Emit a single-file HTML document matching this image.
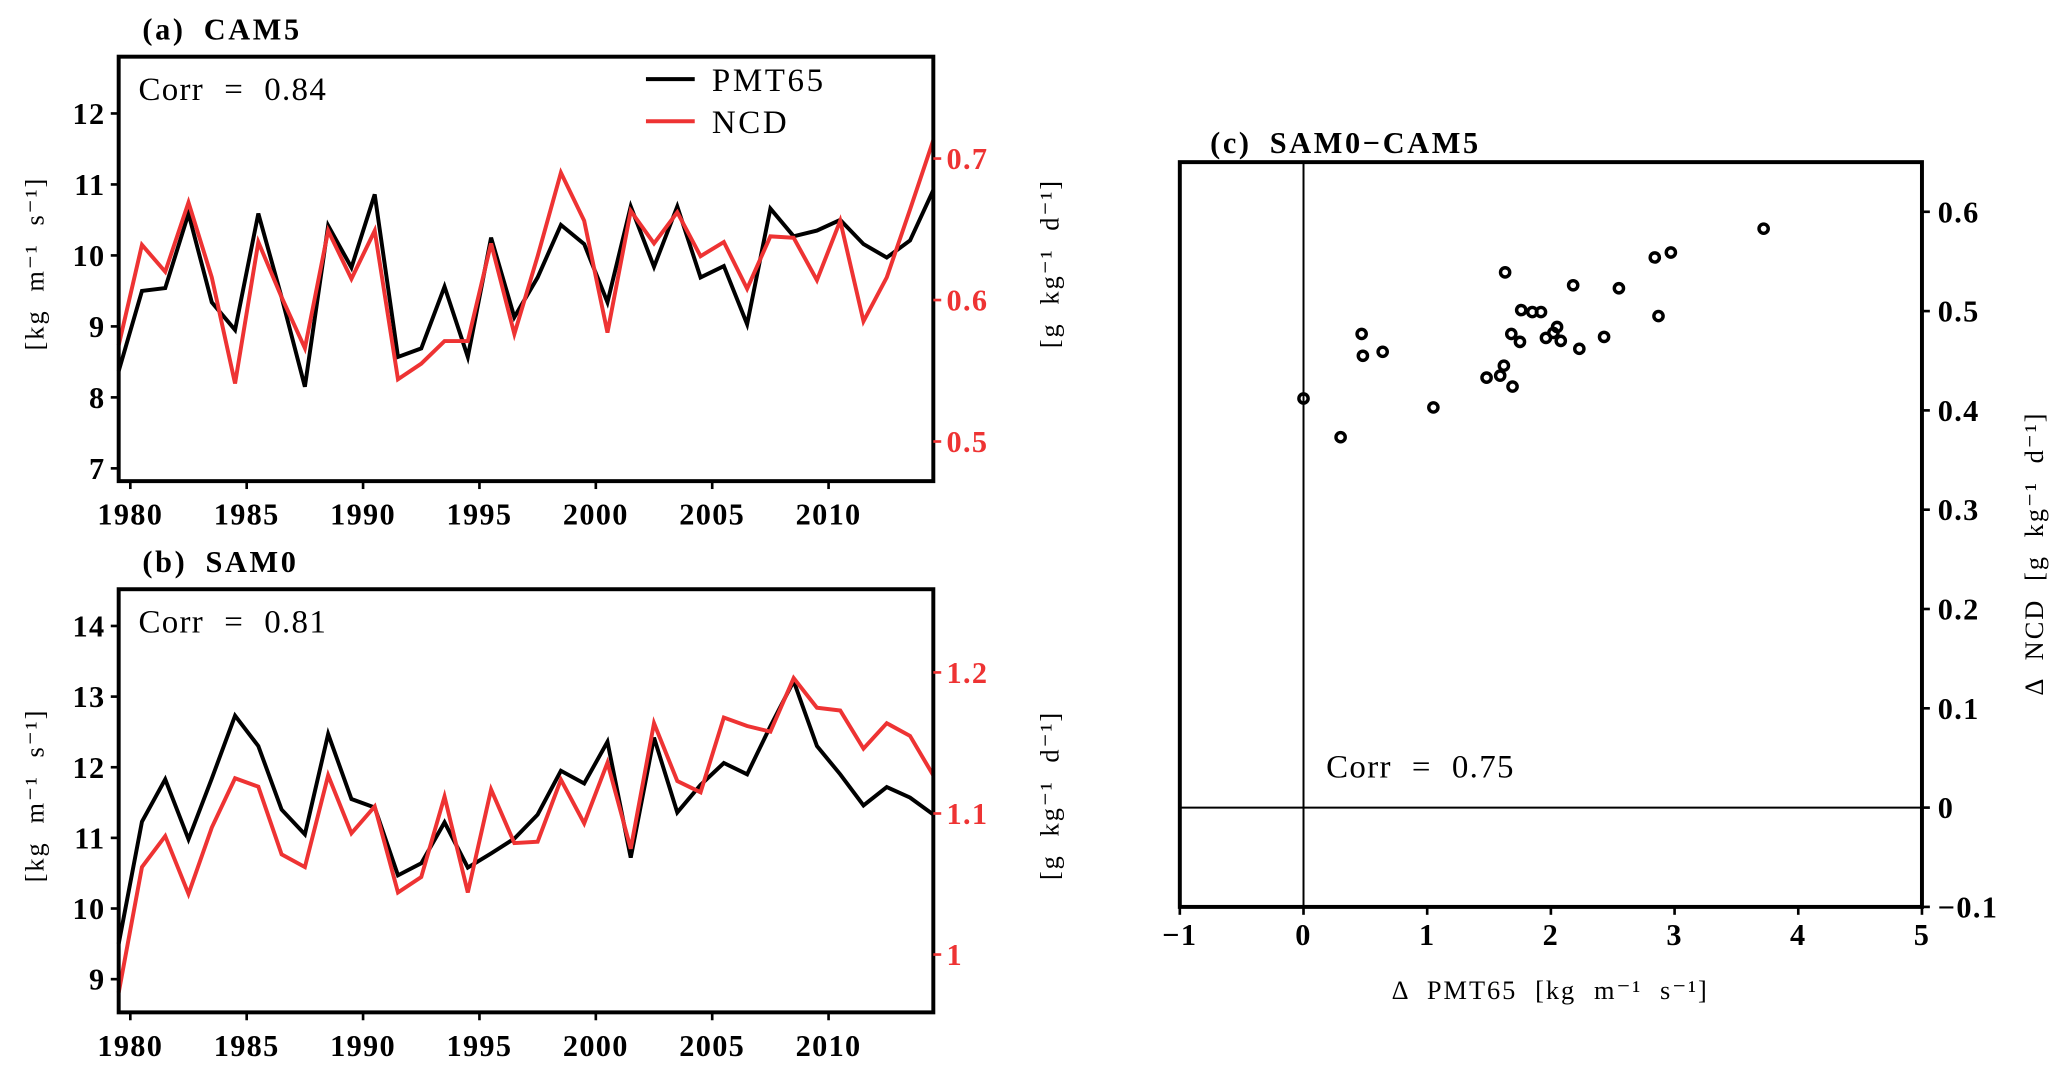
<!DOCTYPE html>
<html><head><meta charset="utf-8">
<style>
html,body{margin:0;padding:0;background:#fff;}
svg{display:block;}
text{font-family:"Liberation Serif",serif;}
.tk{font-weight:bold;font-size:23px;letter-spacing:1px;}
.ttl{font-weight:bold;font-size:23px;letter-spacing:2px;word-spacing:6px;}
.corr{font-size:25px;letter-spacing:1px;word-spacing:8px;}
.ax{font-size:20px;letter-spacing:1.5px;word-spacing:7px;}
</style></head>
<body>
<svg id="fig" width="2067" height="1073" viewBox="0 0 1568 814" xmlns="http://www.w3.org/2000/svg">
<g id="root"></g>
</svg>
<script>
const years = [1979,1980,1981,1982,1983,1984,1985,1986,1987,1988,1989,1990,1991,1992,1993,1994,1995,1996,1997,1998,1999,2000,2001,2002,2003,2004,2005,2006,2007,2008,2009,2010,2011,2012,2013,2014];
const camPMT = [8.37,9.50,9.54,10.59,9.34,8.95,10.59,9.41,8.15,10.42,9.83,10.86,8.57,8.69,9.56,8.57,10.25,9.13,9.69,10.43,10.16,9.34,10.69,9.84,10.69,9.69,9.85,9.03,10.66,10.27,10.35,10.50,10.16,9.97,10.21,10.92];
const camNCD = [0.568,0.639,0.620,0.669,0.616,0.541,0.641,0.602,0.566,0.649,0.615,0.649,0.544,0.555,0.571,0.571,0.640,0.576,0.631,0.690,0.656,0.577,0.663,0.640,0.662,0.631,0.641,0.608,0.645,0.644,0.614,0.656,0.585,0.616,0.664,0.713];
const samPMT = [9.5,11.23,11.83,10.98,11.84,12.73,12.30,11.40,11.05,12.47,11.55,11.43,10.47,10.64,11.22,10.58,10.78,10.99,11.33,11.95,11.77,12.36,10.72,12.42,11.36,11.75,12.06,11.90,12.58,13.22,12.30,11.90,11.46,11.72,11.57,11.33];
const samNCD = [0.973,1.062,1.084,1.043,1.090,1.125,1.119,1.071,1.062,1.127,1.086,1.105,1.044,1.055,1.112,1.044,1.117,1.079,1.080,1.124,1.093,1.136,1.075,1.164,1.123,1.115,1.168,1.162,1.158,1.196,1.175,1.173,1.146,1.164,1.155,1.127];
const dPMT = [0,0.30,0.47,0.48,0.64,1.05,1.48,1.59,1.62,1.69,1.63,1.68,1.75,1.76,1.85,1.92,1.96,2.02,2.05,2.08,2.18,2.23,2.43,2.55,2.84,2.87,2.97,3.72];
const dNCD = [0.412,0.373,0.477,0.455,0.459,0.403,0.433,0.435,0.445,0.424,0.539,0.477,0.469,0.501,0.499,0.499,0.473,0.478,0.484,0.470,0.526,0.462,0.474,0.523,0.554,0.495,0.559,0.583];
const xTicks = [1980,1985,1990,1995,2000,2005,2010];
const aLeftTicks = [7,8,9,10,11,12];
const aRightTicks = [0.5,0.6,0.7];
const bLeftTicks = [9,10,11,12,13,14];
const bRightTicks = [1,1.1,1.2];
const cXTicks = [-1,0,1,2,3,4,5];
const cYTicks = [-0.1,0,0.1,0.2,0.3,0.4,0.5,0.6];

const NS="http://www.w3.org/2000/svg";
const root=document.getElementById('root');
function el(tag,attrs,parent,txt){const e=document.createElementNS(NS,tag);for(const k in attrs)e.setAttribute(k,attrs[k]);if(txt!==undefined)e.textContent=txt;(parent||root).appendChild(e);return e;}
function lin(d0,d1,r0,r1){return v=>r0+(v-d0)/(d1-d0)*(r1-r0);}
const RED="#ee3333";

function tsPanel(o){
  const g=el('g',{});
  
  
  const L=90,R=708,T=o.top,B=o.bot;
  const X=lin(1979.5,2014.5,L,R);
  const YL=lin(o.lmin,o.lmax,B,T), YR=lin(o.rmin,o.rmax,B,T);
  const t=el('text',{x:108,y:T-13,class:'ttl'},g,o.title);
  
  const pb=el('polyline',{points:years.map((y,i)=>X(y+0.5)+','+YL(o.pmt[i])).join(' '),fill:'none',stroke:'#000','stroke-width':3},g);
  
  const pr=el('polyline',{points:years.map((y,i)=>X(y+0.5)+','+YR(o.ncd[i])).join(' '),fill:'none',stroke:RED,'stroke-width':3},g);
  
  const f=el('rect',{x:L,y:T,width:R-L,height:B-T,fill:'none',stroke:'#000','stroke-width':3},g);
  
  xTicks.forEach(v=>{
    el('line',{x1:X(v),x2:X(v),y1:B,y2:B+6,stroke:'#000','stroke-width':2},g);
    const tx=el('text',{x:X(v),y:B+33,'text-anchor':'middle',class:'tk'},g,String(v));
    
  });
  o.lticks.forEach(v=>{
    el('line',{x1:L-6,x2:L,y1:YL(v),y2:YL(v),stroke:'#000','stroke-width':2},g);
    const tx=el('text',{x:L-10,y:YL(v)+8,'text-anchor':'end',class:'tk'},g,String(v));
    
  });
  o.rticks.forEach(v=>{
    el('line',{x1:R,x2:R+6,y1:YR(v),y2:YR(v),stroke:RED,'stroke-width':2},g);
    const tx=el('text',{x:R+10,y:YR(v)+8,class:'tk',fill:RED},g,String(v));
    
  });
  const cy=(T+B)/2;
  const yl=el('text',{x:0,y:0,class:'ax','text-anchor':'middle',transform:`translate(33,${cy-4}) rotate(-90)`},g,'[kg m⁻¹ s⁻¹]');
  
  const yr=el('text',{x:0,y:0,class:'ax','text-anchor':'middle',transform:`translate(803,${cy-4}) rotate(-90)`},g,'[g kg⁻¹ d⁻¹]');
  
  const c=el('text',{x:105,y:T+33,class:'corr'},g,o.corr);
  
  return g;
}
const ga=tsPanel({name:'panel-a-cam5',title:'(a) CAM5',top:43,bot:365,lmin:6.82,lmax:12.8,rmin:0.472,rmax:0.772,pmt:camPMT,ncd:camNCD,lticks:aLeftTicks,rticks:aRightTicks,corr:'Corr = 0.84'});
const lg=el('g',{},ga);

el('line',{x1:490,x2:527,y1:60,y2:60,stroke:'#000','stroke-width':3},lg);
const l1=el('text',{x:540,y:69,'font-size':25,'letter-spacing':2},lg,'PMT65');

el('line',{x1:490,x2:527,y1:92,y2:92,stroke:RED,'stroke-width':3},lg);
const l2=el('text',{x:540,y:101,'font-size':25,'letter-spacing':2},lg,'NCD');


tsPanel({name:'panel-b-sam0',title:'(b) SAM0',top:447,bot:768,lmin:8.53,lmax:14.52,rmin:0.959,rmax:1.259,pmt:samPMT,ncd:samNCD,lticks:bLeftTicks,rticks:bRightTicks,corr:'Corr = 0.81'});

(function(){
  const g=el('g',{});
  
  
  const L=895,R=1458,T=123,B=688;
  const X=lin(-1,5,L,R), Y=lin(-0.1,0.65,B,T);
  const t=el('text',{x:918,y:116,class:'ttl'},g,'(c) SAM0−CAM5');
  
  el('line',{x1:X(0),x2:X(0),y1:T,y2:B,stroke:'#000','stroke-width':1.5},g);
  el('line',{x1:L,x2:R,y1:Y(0),y2:Y(0),stroke:'#000','stroke-width':1.5},g);
  dPMT.forEach((v,i)=>{
    const c=el('circle',{cx:X(v),cy:Y(dNCD[i]),r:3.5,fill:'none',stroke:'#000','stroke-width':2.6},g);
    
    
  });
  const f=el('rect',{x:L,y:T,width:R-L,height:B-T,fill:'none',stroke:'#000','stroke-width':3},g);
  
  cXTicks.forEach(v=>{
    el('line',{x1:X(v),x2:X(v),y1:B,y2:B+6,stroke:'#000','stroke-width':2},g);
    const tx=el('text',{x:X(v),y:B+29,'text-anchor':'middle',class:'tk'},g,v<0?'−'+Math.abs(v):String(v));
    
  });
  cYTicks.forEach(v=>{
    el('line',{x1:R,x2:R+6,y1:Y(v),y2:Y(v),stroke:'#000','stroke-width':2},g);
    const s=v<0?'−'+Math.abs(v):String(v);
    const tx=el('text',{x:R+12,y:Y(v)+8,class:'tk'},g,s);
    
  });
  const xl=el('text',{x:1176,y:758,class:'ax','text-anchor':'middle'},g,'Δ PMT65 [kg m⁻¹ s⁻¹]');
  
  const yl=el('text',{x:0,y:0,class:'ax','text-anchor':'middle',transform:'translate(1550,420) rotate(-90)'},g,'Δ NCD [g kg⁻¹ d⁻¹]');
  
  const c=el('text',{x:1006,y:590,class:'corr'},g,'Corr = 0.75');
  
})();
</script>
</body></html>
